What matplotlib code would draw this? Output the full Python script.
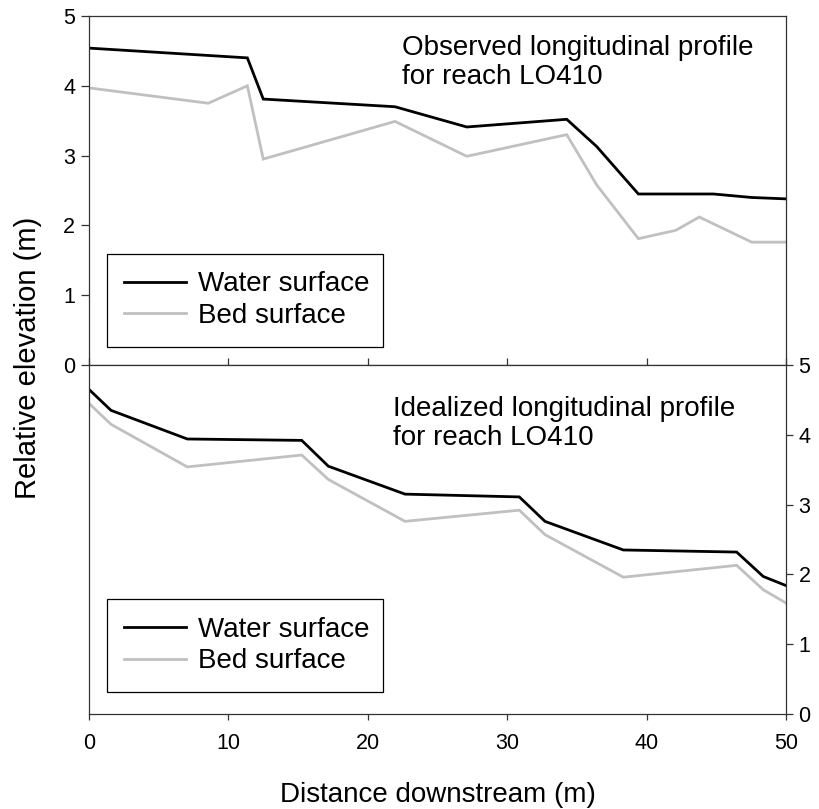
import matplotlib
matplotlib.use('Agg')
import matplotlib.pyplot as plt

plt.rcParams['font.family'] = ['Liberation Sans', 'DejaVu Sans']

# Observed profile
obs_water_x = [0, 11.36, 12.5, 21.95, 27.1, 34.27, 36.42, 39.41, 44.79, 47.54, 50]
obs_water_y = [4.54, 4.40, 3.81, 3.70, 3.41, 3.52, 3.13, 2.45, 2.45, 2.40, 2.38]
obs_bed_x = [0, 8.56, 11.36, 12.5, 21.95, 27.1, 34.27, 36.42, 39.41, 42.1, 43.78, 47.54, 50]
obs_bed_y = [3.97, 3.75, 4.00, 2.95, 3.49, 2.99, 3.30, 2.58, 1.81, 1.93, 2.12, 1.76, 1.76]

# Idealized profile
ideal_x = [0, 1.58, 7.05, 15.26, 17.17, 22.67, 30.87, 32.71, 38.33, 46.46, 48.37, 50]
ideal_water_y = [4.65, 4.35, 3.94, 3.92, 3.55, 3.15, 3.11, 2.76, 2.35, 2.32, 1.97, 1.84]
ideal_bed_y = [4.45, 4.15, 3.54, 3.71, 3.36, 2.76, 2.92, 2.57, 1.96, 2.13, 1.78, 1.59]

x_ticks = [0, 10, 20, 30, 40, 50]
y_ticks = [0, 1, 2, 3, 4, 5]

W, H = 819, 809
fig = plt.figure(figsize=(W / 100, H / 100), dpi=100)
L, R = 89, 786
ax1 = fig.add_axes([L / W, 1 - 365 / H, (R - L) / W, 349 / H])
ax2 = fig.add_axes([L / W, 1 - 714 / H, (R - L) / W, 349 / H])

spine_c = '#333333'
water_c = 'black'
bed_c = '#c0c0c0'
lw = 2.0
fs = 20
tfs = 15.5

for ax in (ax1, ax2):
    ax.set_xlim(0, 50)
    ax.set_ylim(0, 5)
    ax.set_xticks(x_ticks)
    ax.set_yticks(y_ticks)
    for s in ax.spines.values():
        s.set_color(spine_c)
        s.set_linewidth(0.9)

ax1.plot(obs_water_x, obs_water_y, color=water_c, lw=lw, label='Water surface', solid_joinstyle='miter')
ax1.plot(obs_bed_x, obs_bed_y, color=bed_c, lw=lw, label='Bed surface', solid_joinstyle='miter')
ax2.plot(ideal_x, ideal_water_y, color=water_c, lw=lw, label='Water surface', solid_joinstyle='miter')
ax2.plot(ideal_x, ideal_bed_y, color=bed_c, lw=lw, label='Bed surface', solid_joinstyle='miter')

# Top panel ticks
ax1.tick_params(axis='x', direction='in', length=5, width=0.9, color=spine_c, labelbottom=False)
ax1.tick_params(axis='y', direction='out', length=6, width=0.9, color=spine_c, labelsize=tfs, pad=4)
# Bottom panel ticks
ax2.tick_params(axis='x', direction='out', length=4.5, width=0.9, color=spine_c, labelsize=tfs, pad=9)
ax2.yaxis.tick_right()
ax2.tick_params(axis='y', direction='out', length=5, width=0.9, color=spine_c, labelsize=tfs, pad=4)

ax1.text((402 - L) / (R - L), (365 - 35) / 349, 'Observed longitudinal profile\nfor reach LO410',
         transform=ax1.transAxes, fontsize=fs, va='top', ha='left', linespacing=1.13)
ax2.text((393 - L) / (R - L), (714 - 396) / 349, 'Idealized longitudinal profile\nfor reach LO410',
         transform=ax2.transAxes, fontsize=fs, va='top', ha='left', linespacing=1.13)

leg_kw = dict(loc='lower left', mode='expand', fontsize=fs, frameon=True, fancybox=False,
              framealpha=1, edgecolor='black', handlelength=2.2, handletextpad=0.45,
              borderpad=0.64, labelspacing=0.2, borderaxespad=0)
l1 = ax1.legend(bbox_to_anchor=((106.7 - L) / (R - L), (365 - 346.7) / 349, (382.7 - 106.7) / (R - L), 0.2), **leg_kw)
l2 = ax2.legend(bbox_to_anchor=((106.7 - L) / (R - L), (714 - 692) / 349, (382.7 - 106.7) / (R - L), 0.2), **leg_kw)
for lg in (l1, l2):
    lg.get_frame().set_linewidth(0.9)

fig.text(437.5 / W, 1 - 802 / H, 'Distance downstream (m)', fontsize=fs, ha='center', va='baseline')
fig.text(36 / W, 1 - 358 / H, 'Relative elevation (m)', fontsize=21, rotation=90,
         rotation_mode='anchor', ha='center', va='baseline')

fig.savefig('out.png', dpi=100)
